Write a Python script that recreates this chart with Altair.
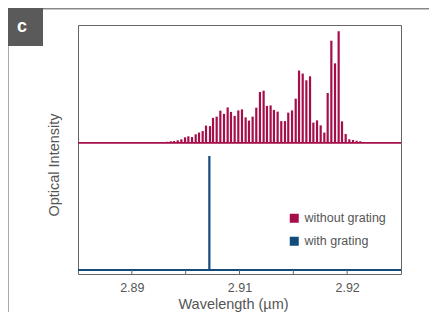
import altair as alt
import pandas as pd

# ---- data ----
series_names = ["without grating", "with grating"]
series_colors = ["#a50d4b", "#134b7d"]

red_wl = [2.90293, 2.90327, 2.90361, 2.90392, 2.90426, 2.90460, 2.90494, 2.90525,
          2.90559, 2.90593, 2.90624, 2.90658, 2.90689, 2.90726, 2.90754, 2.90788,
          2.90822, 2.90856, 2.90890, 2.90921, 2.90955, 2.90989, 2.91023, 2.91057,
          2.91088, 2.91122, 2.91156, 2.91190, 2.91224, 2.91255, 2.91289, 2.91320,
          2.91354, 2.91388, 2.91422, 2.91453, 2.91488, 2.91522, 2.91553, 2.91587,
          2.91621, 2.91655, 2.91686, 2.91720, 2.91754, 2.91788, 2.91819, 2.91853,
          2.91887, 2.91921, 2.91952, 2.91986, 2.92020, 2.92054, 2.92088, 2.92122]
red_top = [0.530, 0.531, 0.533, 0.534, 0.537, 0.541, 0.549, 0.553,
           0.550, 0.561, 0.568, 0.574, 0.596, 0.594, 0.627, 0.632,
           0.656, 0.643, 0.669, 0.651, 0.635, 0.657, 0.661, 0.629,
           0.616, 0.632, 0.668, 0.731, 0.736, 0.675, 0.677, 0.659,
           0.652, 0.614, 0.614, 0.648, 0.657, 0.704, 0.817, 0.805,
           0.778, 0.794, 0.608, 0.617, 0.597, 0.568, 0.727, 0.937,
           0.846, 0.975, 0.613, 0.562, 0.541, 0.538, 0.535, 0.533]
red_base = 0.527

blue_wl = [2.90720]
blue_top = [0.474]
blue_base = 0.016

x_domain = [2.895, 2.925]
y_domain = [0.0, 1.0]
tick_positions = [2.900, 2.905, 2.910, 2.915, 2.920]
label_values = [2.90, 2.91, 2.92]
label_texts = ["2.89", "2.91", "2.92"]

# ---- tables ----
peaks = pd.DataFrame(
    [{"series": series_names[0], "wl": w, "top": t, "base": red_base} for w, t in zip(red_wl, red_top)]
    + [{"series": series_names[1], "wl": w, "top": t, "base": blue_base} for w, t in zip(blue_wl, blue_top)]
)
baselines = pd.DataFrame([
    {"series": series_names[0], "x0": x_domain[0], "x1": x_domain[1], "y": red_base},
    {"series": series_names[1], "x0": x_domain[0], "x1": x_domain[1], "y": blue_base},
])
ticks = pd.DataFrame({"t": tick_positions})

label_expr = ""
for v, s in zip(label_values, label_texts):
    label_expr += f"abs(datum.value - {v}) < 1e-6 ? '{s}' : "
label_expr += "''"

W, H = 323, 249
FONT = "Liberation Sans"
GRAY = "#555555"

xscale = alt.Scale(domain=x_domain, nice=False, zero=False, padding=0)
yscale = alt.Scale(domain=y_domain, nice=False, zero=False, padding=0)
cscale = alt.Scale(domain=series_names, range=series_colors)

x_axis = alt.Axis(
    values=label_values, labelExpr=label_expr, title="Wavelength (µm)",
    domain=False, ticks=False, tickSize=0, grid=False, labelPadding=7,
    labelFontSize=12.5, labelColor=GRAY, labelFont=FONT,
    titleFontSize=14.5, titleColor=GRAY, titleFont=FONT, titleFontWeight="normal",
    titleX=155, titleY=30, titleBaseline="middle", titleAlign="center")
y_axis = alt.Axis(
    title="Optical Intensity", labels=False, ticks=False, tickSize=0, domain=False, grid=False,
    titleAngle=270, titleX=-24, titleY=139.5, titleBaseline="middle", titleAlign="center",
    titleFontSize=14.5, titleColor=GRAY, titleFont=FONT, titleFontWeight="normal")

peak_layer = alt.Chart(peaks).mark_bar(size=2.2).encode(
    x=alt.X("wl:Q", scale=xscale, axis=x_axis),
    y=alt.Y("top:Q", scale=yscale, axis=y_axis),
    y2="base:Q",
    color=alt.Color("series:N", scale=cscale, legend=alt.Legend(
        title=None, orient="none", legendX=210, legendY=187, symbolType="square",
        symbolSize=81, symbolStrokeWidth=0, labelFontSize=12.5, labelColor=GRAY,
        labelFont=FONT, rowPadding=10, labelOffset=4)),
)

base_layer = alt.Chart(baselines).mark_rule(strokeWidth=1.8).encode(
    x=alt.X("x0:Q", scale=xscale, axis=x_axis),
    x2="x1:Q",
    y=alt.Y("y:Q", scale=yscale, axis=y_axis),
    color=alt.Color("series:N", scale=cscale, legend=None),
)

tick_layer = alt.Chart(ticks).mark_rule(color="#666666", strokeWidth=1).encode(
    x=alt.X("t:Q", scale=xscale, axis=x_axis),
    y=alt.value(H),
    y2=alt.value(H - 4),
)

one = alt.Data(values=[{"a": 1}])
box = alt.Chart(one).mark_rect(color="#5a5a5a").encode(
    x=alt.value(-70), x2=alt.value(-35), y=alt.value(-17), y2=alt.value(21))
letter = alt.Chart(one).mark_text(text="c", fontSize=18, fontWeight="bold", color="white",
                                  font=FONT, baseline="middle", align="center").encode(
    x=alt.value(-56), y=alt.value(2))
top_line = alt.Chart(one).mark_rule(color="#888888", strokeWidth=1.5).encode(
    x=alt.value(-35), x2=alt.value(W + 28), y=alt.value(-16.3))
left_line = alt.Chart(one).mark_rule(color="#aaaaaa", strokeWidth=1).encode(
    x=alt.value(-69.5), y=alt.value(21), y2=alt.value(H + 38))

chart = alt.layer(peak_layer, base_layer, tick_layer, box, letter, top_line, left_line).properties(
    width=W, height=H,
    autosize=alt.AutoSizeParams(type="none"),
    padding={"left": 70, "top": 17, "right": 28, "bottom": 38},
).configure_view(stroke="#666666", strokeWidth=1)

chart.save("out.html", embed_options={"renderer": "svg", "actions": False})
